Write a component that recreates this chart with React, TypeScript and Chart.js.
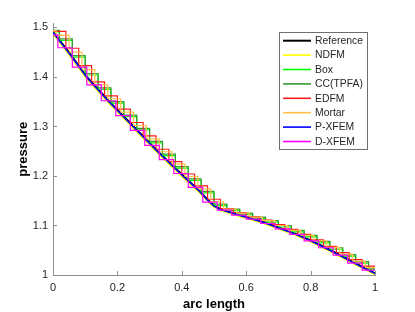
import { useEffect, useRef } from 'react';
import { Chart, registerables } from 'chart.js';

Chart.register(...registerables);

// ---- tick labels ----
const xTicks = [0, 0.2, 0.4, 0.6, 0.8, 1];
const yTicks = [1, 1.1, 1.2, 1.3, 1.4, 1.5];

// ---- smooth series (arc length, pressure) ----
const refX = [0, 0.05, 0.105, 0.175, 0.25, 0.325, 0.405, 0.45, 0.48, 0.5, 0.52, 0.58, 0.65, 0.705, 0.75, 0.8, 0.85, 0.9, 0.95, 1.0];
const refY = [1.491, 1.449, 1.400, 1.350, 1.300, 1.250, 1.200, 1.173, 1.152, 1.140, 1.133, 1.121, 1.108, 1.095, 1.084, 1.070, 1.054, 1.037, 1.020, 1.0035];
const ndfmY = [1.487, 1.445, 1.396, 1.346, 1.296, 1.246, 1.196, 1.169, 1.149, 1.137, 1.130, 1.118, 1.105, 1.092, 1.081, 1.067, 1.051, 1.034, 1.017, 1.001];
const pxfemY = [1.490, 1.448, 1.399, 1.349, 1.299, 1.249, 1.199, 1.172, 1.151, 1.139, 1.132, 1.120, 1.107, 1.094, 1.083, 1.069, 1.053, 1.036, 1.019, 1.003];

// ---- cell-wise (stepped) series: cell start and cell value ----
const boxX = [0, 0.02, 0.06, 0.10, 0.14, 0.18, 0.22, 0.26, 0.30, 0.34, 0.38, 0.42, 0.46, 0.50, 0.54, 0.58, 0.62, 0.66, 0.70, 0.74, 0.78, 0.82, 0.86, 0.90, 0.94, 0.98];
const boxY = [1.491, 1.474, 1.440, 1.404, 1.375, 1.347, 1.320, 1.293, 1.267, 1.241, 1.216, 1.191, 1.166, 1.140, 1.130, 1.122, 1.114, 1.107, 1.097, 1.087, 1.077, 1.065, 1.052, 1.038, 1.024, 1.011];

const ccX = [0, 0.02, 0.06, 0.10, 0.14, 0.18, 0.22, 0.26, 0.30, 0.34, 0.38, 0.42, 0.46, 0.50, 0.54, 0.58, 0.62, 0.66, 0.70, 0.74, 0.78, 0.82, 0.86, 0.90, 0.94, 0.98];
const ccY = [1.494, 1.477, 1.443, 1.407, 1.378, 1.350, 1.323, 1.296, 1.270, 1.244, 1.219, 1.194, 1.169, 1.143, 1.133, 1.125, 1.117, 1.110, 1.100, 1.090, 1.080, 1.068, 1.055, 1.041, 1.027, 1.014];

const edfmX = [0, 0.04, 0.08, 0.12, 0.16, 0.20, 0.24, 0.28, 0.32, 0.36, 0.40, 0.44, 0.48, 0.52, 0.56, 0.60, 0.64, 0.68, 0.72, 0.76, 0.80, 0.84, 0.88, 0.92, 0.96];
const edfmY = [1.492, 1.458, 1.423, 1.390, 1.362, 1.335, 1.308, 1.281, 1.254, 1.229, 1.204, 1.180, 1.153, 1.134, 1.126, 1.118, 1.111, 1.102, 1.092, 1.082, 1.071, 1.058, 1.045, 1.031, 1.018];

const mortarX = [0, 0.01, 0.05, 0.09, 0.13, 0.17, 0.21, 0.25, 0.29, 0.33, 0.37, 0.41, 0.45, 0.49, 0.53, 0.57, 0.61, 0.65, 0.69, 0.73, 0.77, 0.81, 0.85, 0.89, 0.93, 0.97];
const mortarY = [1.493, 1.484, 1.450, 1.415, 1.384, 1.356, 1.329, 1.302, 1.275, 1.249, 1.224, 1.199, 1.174, 1.148, 1.133, 1.125, 1.117, 1.110, 1.100, 1.090, 1.080, 1.069, 1.056, 1.042, 1.028, 1.015];

const dxfemX = [0, 0.015, 0.06, 0.105, 0.15, 0.195, 0.24, 0.285, 0.33, 0.375, 0.42, 0.465, 0.51, 0.555, 0.60, 0.645, 0.69, 0.735, 0.78, 0.825, 0.87, 0.915, 0.96];
const dxfemY = [1.485, 1.459, 1.420, 1.384, 1.352, 1.322, 1.292, 1.262, 1.233, 1.205, 1.177, 1.147, 1.131, 1.121, 1.113, 1.104, 1.093, 1.082, 1.069, 1.055, 1.040, 1.024, 1.010];

const FONT = "'Liberation Sans', Arial, Helvetica, sans-serif";
const AXIS_GRAY = '#8f8f8f';
const TEXT = '#262626';

function pts(xs: number[], ys: number[]) {
  return xs.map((x, i) => ({ x, y: ys[i] }));
}
function stepPts(xs: number[], ys: number[]) {
  const p = pts(xs, ys);
  p.push({ x: 1, y: ys[ys.length - 1] });
  return p;
}

const inwardTicks = {
  id: 'inwardTicks',
  afterDraw(chart: any) {
    const { ctx, chartArea, scales } = chart;
    ctx.save();
    ctx.strokeStyle = AXIS_GRAY;
    ctx.lineWidth = 1;
    ctx.beginPath();
    xTicks.forEach((v) => {
      const px = Math.round(scales.x.getPixelForValue(v)) + 0.5;
      ctx.moveTo(px, chartArea.bottom);
      ctx.lineTo(px, chartArea.bottom - 4);
    });
    yTicks.forEach((v) => {
      const py = Math.round(scales.y.getPixelForValue(v)) + 0.5;
      ctx.moveTo(chartArea.left, py);
      ctx.lineTo(chartArea.left + 4, py);
    });
    ctx.stroke();
    ctx.restore();
  },
};

const boxLegend = {
  id: 'boxLegend',
  afterDraw(chart: any) {
    const { ctx } = chart;
    const left = 279.5, top = 32.5, w = 88, h = 117;
    ctx.save();
    ctx.fillStyle = '#ffffff';
    ctx.fillRect(left, top, w, h);
    ctx.strokeStyle = '#6e6e6e';
    ctx.lineWidth = 1;
    ctx.strokeRect(left, top, w, h);
    ctx.font = `10.4px ${FONT}`;
    ctx.textBaseline = 'middle';
    ctx.textAlign = 'left';
    chart.data.datasets.forEach((ds: any, i: number) => {
      const y = 40.7 + i * 14.4;
      ctx.strokeStyle = ds.borderColor;
      ctx.lineWidth = ds.label === 'Reference' ? 2 : 1.6;
      ctx.beginPath();
      ctx.moveTo(283, y);
      ctx.lineTo(311, y);
      ctx.stroke();
      ctx.fillStyle = TEXT;
      ctx.fillText(ds.label, 315, y + 0.5);
    });
    ctx.restore();
  },
};

export default function App() {
  const canvasRef = useRef<HTMLCanvasElement | null>(null);

  useEffect(() => {
    document.body.style.margin = '0';
    const canvas = canvasRef.current;
    if (!canvas) return;

    const smooth = (label: string, data: any, color: string, width: number, order: number) => ({
      label, data, borderColor: color, backgroundColor: color, borderWidth: width,
      pointRadius: 0, tension: 0, fill: false, order,
    });
    const step = (label: string, data: any, color: string, order: number) => ({
      label, data, borderColor: color, backgroundColor: color, borderWidth: 1.2,
      pointRadius: 0, tension: 0, fill: false, stepped: 'before', order,
    });

    const chart = new Chart(canvas, {
      type: 'line',
      data: {
        datasets: [
          smooth('Reference', pts(refX, refY), '#000000', 2, 7),
          smooth('NDFM', pts(refX, ndfmY), '#ffff00', 1.5, 6),
          step('Box', stepPts(boxX, boxY), '#00ff00', 5),
          step('CC(TPFA)', stepPts(ccX, ccY), '#339a33', 4),
          step('EDFM', stepPts(edfmX, edfmY), '#ff1a1a', 3),
          step('Mortar', stepPts(mortarX, mortarY), '#ffbf47', 2),
          smooth('P-XFEM', pts(refX, pxfemY), '#0000ff', 1.5, 1),
          step('D-XFEM', stepPts(dxfemX, dxfemY), '#ff00ff', 0),
        ] as any,
      },
      options: {
        responsive: false,
        animation: false,
        events: [],
        layout: { padding: { left: 0, right: 40, top: 23.5, bottom: 0 } },
        plugins: { legend: { display: false }, tooltip: { enabled: false } },
        scales: {
          x: {
            type: 'linear',
            min: 0,
            max: 1,
            afterBuildTicks: (s: any) => { s.ticks = xTicks.map((v) => ({ value: v })); },
            afterFit: (s: any) => { s.height = 37; },
            grid: { display: true, drawOnChartArea: false, drawTicks: false },
            border: { display: true, color: AXIS_GRAY, width: 1 },
            ticks: {
              padding: 6,
              color: TEXT,
              font: { family: FONT, size: 11 },
              maxRotation: 0,
              autoSkip: false,
              callback: (v: any) => String(v),
            },
            title: {
              display: true,
              text: 'arc length',
              color: '#000000',
              font: { family: FONT, size: 13, weight: 'bold' },
              padding: { top: 0, bottom: 0 },
            },
          },
          y: {
            type: 'linear',
            min: 1,
            max: 1.508,
            afterBuildTicks: (s: any) => { s.ticks = yTicks.map((v) => ({ value: v })); },
            afterFit: (s: any) => { s.width = 53; },
            grid: { display: true, drawOnChartArea: false, drawTicks: false },
            border: { display: true, color: AXIS_GRAY, width: 1 },
            ticks: {
              padding: 5,
              color: TEXT,
              font: { family: FONT, size: 11 },
              autoSkip: false,
              callback: (v: any) => String(v),
            },
            title: {
              display: true,
              text: 'pressure',
              color: '#000000',
              font: { family: FONT, size: 13, weight: 'bold' },
              padding: { top: 16, bottom: 0 },
            },
          },
        },
      } as any,
      plugins: [inwardTicks, boxLegend],
    });

    return () => chart.destroy();
  }, []);

  return (
    <div style={{ width: 415, height: 312 }}>
      <canvas ref={canvasRef} width={415} height={312} style={{ display: 'block' }} />
    </div>
  );
}
